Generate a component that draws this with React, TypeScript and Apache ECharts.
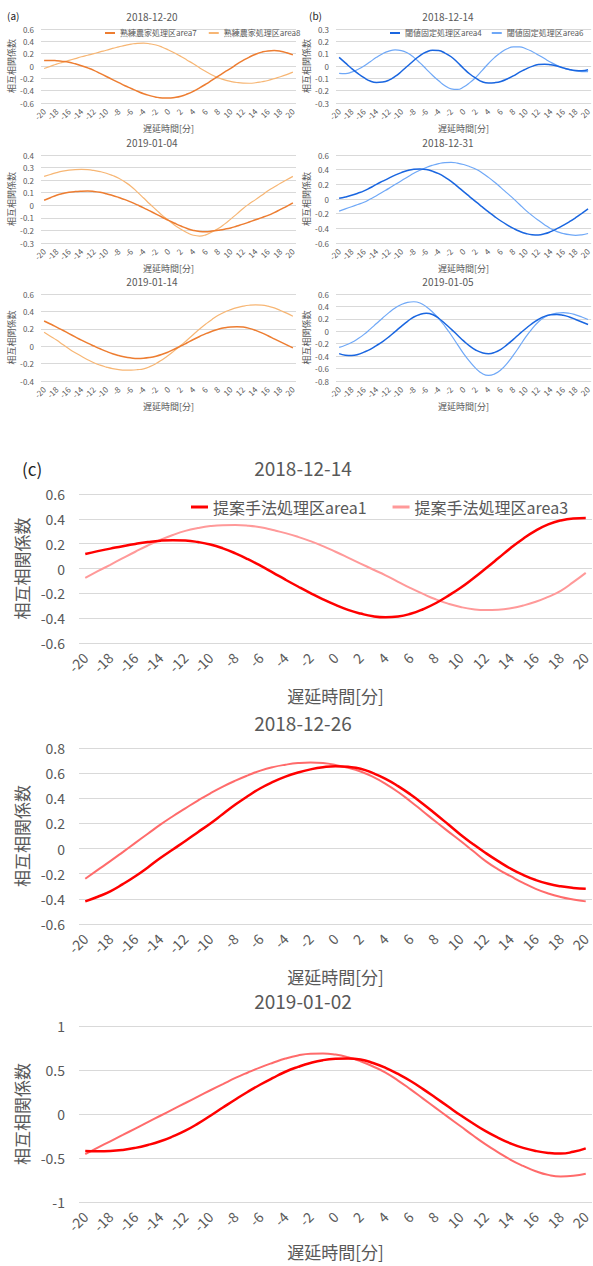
import React, { useEffect, useRef } from "react";
import * as echarts from "echarts";

// category axis: lag in minutes (-20 .. 20)
const LAGS = [-20, -19, -18, -17, -16, -15, -14, -13, -12, -11, -10, -9, -8, -7, -6, -5, -4, -3, -2, -1, 0, 1, 2, 3, 4, 5, 6, 7, 8, 9, 10, 11, 12, 13, 14, 15, 16, 17, 18, 19, 20];

const TITLES = ["2018-12-20", "2019-01-04", "2019-01-14", "2018-12-14", "2018-12-31", "2019-01-05", "2018-12-14", "2018-12-26", "2019-01-02"];
const PANEL_LABELS = ["(a)", "(b)", "(c)"];
const SERIES_NAMES = ["熟練農家処理区area7", "熟練農家処理区area8", "閾値固定処理区area4", "閾値固定処理区area6", "提案手法処理区area1", "提案手法処理区area3"];
const Y_NAME = "相互相関係数";
const X_NAME = "遅延時間[分]";

// (a) 2018-12-20
const a1Area7 = [0.09, 0.09, 0.085, 0.075, 0.06, 0.035, 0.005, -0.03, -0.07, -0.12, -0.17, -0.22, -0.27, -0.32, -0.365, -0.41, -0.45, -0.48, -0.505, -0.518, -0.52, -0.51, -0.49, -0.455, -0.41, -0.355, -0.295, -0.23, -0.165, -0.1, -0.04, 0.03, 0.09, 0.145, 0.19, 0.225, 0.245, 0.25, 0.24, 0.215, 0.18];
const a1Area8 = [-0.04, -0.005, 0.03, 0.06, 0.09, 0.12, 0.15, 0.175, 0.2, 0.23, 0.255, 0.285, 0.31, 0.335, 0.355, 0.368, 0.37, 0.36, 0.34, 0.305, 0.26, 0.21, 0.155, 0.095, 0.035, -0.03, -0.09, -0.145, -0.19, -0.225, -0.25, -0.268, -0.278, -0.28, -0.272, -0.255, -0.235, -0.205, -0.175, -0.14, -0.1];
// (a) 2019-01-04
const a2Area7 = [0.04, 0.06, 0.08, 0.093, 0.103, 0.109, 0.112, 0.113, 0.11, 0.103, 0.092, 0.078, 0.062, 0.045, 0.025, 0.003, -0.02, -0.045, -0.07, -0.095, -0.12, -0.143, -0.165, -0.185, -0.2, -0.208, -0.21, -0.205, -0.198, -0.19, -0.18, -0.165, -0.15, -0.133, -0.115, -0.098, -0.08, -0.058, -0.033, -0.008, 0.02];
const a2Area8 = [0.23, 0.245, 0.26, 0.272, 0.28, 0.284, 0.285, 0.283, 0.277, 0.268, 0.255, 0.237, 0.215, 0.185, 0.15, 0.105, 0.058, 0.01, -0.035, -0.08, -0.12, -0.158, -0.19, -0.218, -0.238, -0.245, -0.235, -0.212, -0.185, -0.15, -0.11, -0.068, -0.025, 0.012, 0.045, 0.08, 0.115, 0.145, 0.175, 0.203, 0.23];
// (a) 2019-01-14
const a3Area7 = [0.29, 0.255, 0.22, 0.183, 0.145, 0.107, 0.07, 0.035, 0.002, -0.03, -0.06, -0.087, -0.108, -0.125, -0.135, -0.14, -0.138, -0.13, -0.115, -0.093, -0.065, -0.032, 0.003, 0.04, 0.077, 0.112, 0.145, 0.172, 0.195, 0.212, 0.222, 0.225, 0.22, 0.205, 0.182, 0.153, 0.12, 0.085, 0.05, 0.015, -0.02];
const a3Area8 = [0.16, 0.115, 0.07, 0.02, -0.03, -0.075, -0.115, -0.155, -0.19, -0.218, -0.24, -0.258, -0.27, -0.276, -0.275, -0.27, -0.26, -0.235, -0.2, -0.155, -0.105, -0.048, 0.01, 0.072, 0.135, 0.197, 0.255, 0.308, 0.355, 0.392, 0.42, 0.443, 0.46, 0.471, 0.475, 0.472, 0.46, 0.44, 0.41, 0.38, 0.345];
// (b) 2018-12-14
const b1Area4 = [0.07, 0.025, -0.02, -0.06, -0.095, -0.122, -0.133, -0.13, -0.115, -0.085, -0.045, 0, 0.045, 0.085, 0.113, 0.128, 0.125, 0.105, 0.075, 0.03, -0.02, -0.065, -0.1, -0.128, -0.138, -0.135, -0.125, -0.105, -0.08, -0.05, -0.025, -0.003, 0.012, 0.015, 0.01, 0, -0.015, -0.028, -0.036, -0.038, -0.03];
const b1Area6 = [-0.06, -0.062, -0.05, -0.028, 0, 0.035, 0.07, 0.1, 0.12, 0.13, 0.125, 0.105, 0.07, 0.025, -0.025, -0.075, -0.12, -0.16, -0.185, -0.19, -0.17, -0.135, -0.09, -0.035, 0.02, 0.07, 0.11, 0.14, 0.155, 0.155, 0.14, 0.118, 0.09, 0.06, 0.03, 0.005, -0.015, -0.03, -0.04, -0.045, -0.045];
// (b) 2018-12-31
const b2Area4 = [0.01, 0.028, 0.05, 0.078, 0.11, 0.153, 0.2, 0.243, 0.285, 0.325, 0.36, 0.388, 0.405, 0.41, 0.403, 0.38, 0.345, 0.297, 0.24, 0.172, 0.1, 0.03, -0.04, -0.108, -0.175, -0.24, -0.3, -0.353, -0.4, -0.44, -0.47, -0.487, -0.49, -0.475, -0.445, -0.405, -0.36, -0.31, -0.255, -0.195, -0.135];
const b2Area6 = [-0.165, -0.135, -0.105, -0.075, -0.045, 0, 0.045, 0.095, 0.145, 0.198, 0.25, 0.3, 0.35, 0.392, 0.43, 0.46, 0.483, 0.497, 0.5, 0.49, 0.47, 0.44, 0.405, 0.355, 0.295, 0.228, 0.155, 0.08, 0.005, -0.075, -0.155, -0.225, -0.29, -0.35, -0.405, -0.445, -0.47, -0.487, -0.495, -0.488, -0.47];
// (b) 2019-01-05
const b3Area4 = [-0.36, -0.385, -0.39, -0.375, -0.335, -0.29, -0.23, -0.165, -0.09, -0.005, 0.08, 0.16, 0.23, 0.272, 0.29, 0.27, 0.21, 0.125, 0.035, -0.06, -0.155, -0.24, -0.305, -0.345, -0.36, -0.34, -0.29, -0.215, -0.13, -0.04, 0.045, 0.125, 0.19, 0.24, 0.265, 0.27, 0.258, 0.23, 0.19, 0.15, 0.11];
const b3Area6 = [-0.26, -0.225, -0.18, -0.12, -0.05, 0.035, 0.125, 0.215, 0.3, 0.375, 0.43, 0.465, 0.475, 0.455, 0.395, 0.31, 0.205, 0.08, -0.06, -0.21, -0.36, -0.49, -0.6, -0.68, -0.71, -0.685, -0.62, -0.515, -0.385, -0.24, -0.09, 0.04, 0.15, 0.225, 0.27, 0.292, 0.3, 0.29, 0.265, 0.23, 0.19];
// (c) 2018-12-14
const c1Area1 = [0.117, 0.14, 0.16, 0.18, 0.198, 0.213, 0.224, 0.228, 0.225, 0.213, 0.193, 0.162, 0.122, 0.075, 0.023, -0.033, -0.09, -0.145, -0.198, -0.248, -0.293, -0.333, -0.363, -0.385, -0.393, -0.387, -0.365, -0.328, -0.28, -0.22, -0.155, -0.08, 0, 0.082, 0.165, 0.24, 0.305, 0.355, 0.387, 0.403, 0.407];
const c1Area3 = [-0.075, -0.022, 0.03, 0.083, 0.135, 0.185, 0.23, 0.27, 0.303, 0.326, 0.342, 0.349, 0.35, 0.345, 0.332, 0.31, 0.285, 0.255, 0.22, 0.18, 0.135, 0.088, 0.04, -0.008, -0.055, -0.107, -0.158, -0.205, -0.248, -0.283, -0.31, -0.328, -0.335, -0.332, -0.32, -0.298, -0.268, -0.228, -0.18, -0.11, -0.035];
// (c) 2018-12-26
const c2Area1 = [-0.42, -0.383, -0.34, -0.283, -0.22, -0.15, -0.075, -0.007, 0.06, 0.13, 0.2, 0.275, 0.35, 0.418, 0.48, 0.53, 0.572, 0.605, 0.63, 0.647, 0.655, 0.65, 0.635, 0.6, 0.555, 0.497, 0.43, 0.355, 0.275, 0.193, 0.11, 0.035, -0.035, -0.1, -0.16, -0.21, -0.25, -0.28, -0.3, -0.313, -0.32];
const c2Area3 = [-0.24, -0.17, -0.1, -0.028, 0.045, 0.118, 0.19, 0.257, 0.32, 0.382, 0.44, 0.493, 0.54, 0.582, 0.62, 0.648, 0.667, 0.68, 0.685, 0.68, 0.665, 0.643, 0.613, 0.57, 0.515, 0.45, 0.375, 0.295, 0.215, 0.137, 0.06, -0.02, -0.1, -0.165, -0.22, -0.273, -0.32, -0.357, -0.385, -0.405, -0.42];
// (c) 2019-01-02
const c3Area1 = [-0.42, -0.423, -0.42, -0.408, -0.385, -0.352, -0.31, -0.255, -0.19, -0.11, -0.02, 0.073, 0.165, 0.253, 0.335, 0.41, 0.48, 0.535, 0.58, 0.612, 0.628, 0.632, 0.62, 0.58, 0.525, 0.455, 0.375, 0.283, 0.185, 0.085, -0.015, -0.108, -0.195, -0.27, -0.335, -0.385, -0.42, -0.442, -0.45, -0.43, -0.39];
const c3Area3 = [-0.455, -0.382, -0.31, -0.238, -0.165, -0.092, -0.02, 0.053, 0.125, 0.198, 0.27, 0.34, 0.41, 0.472, 0.53, 0.582, 0.63, 0.665, 0.685, 0.688, 0.675, 0.645, 0.6, 0.54, 0.47, 0.38, 0.28, 0.175, 0.07, -0.035, -0.14, -0.245, -0.345, -0.435, -0.52, -0.59, -0.65, -0.692, -0.71, -0.703, -0.68];

// y-axis ranges per panel: [min, max, interval]
const Y_RANGES = [
  [-0.6, 0.6, 0.2], [-0.3, 0.4, 0.1], [-0.4, 0.6, 0.2],
  [-0.3, 0.3, 0.1], [-0.6, 0.6, 0.2], [-0.8, 0.6, 0.2],
  [-0.6, 0.6, 0.2], [-0.6, 0.8, 0.2], [-1, 1, 0.5],
];

const FONT = '"Noto Sans CJK JP", "Noto Sans", sans-serif';
const GRAY = "#595959";
const GRID_COLOR = "#d9d9d9";

const ORANGE = "#ed7d31";
const ORANGE_LIGHT = "#f7b674";
const BLUE = "#1a66e0";
const BLUE_LIGHT = "#6fa8f7";
const RED = "#ff0000";
const RED_LIGHT1 = "#ff9999";
const RED_LIGHT2 = "#ff6b6b";

type SeriesDef = { name: string; values: number[]; color: string; width: number };
type Panel = {
  grid: { left: number; top: number; width: number; height: number };
  big: boolean;
  title: string;
  titleX: number;
  titleY: number;
  xNameGap: number;
  series: SeriesDef[];
};

const panels: Panel[] = [
  { grid: { left: 41, top: 29, width: 255, height: 74 }, big: false, title: TITLES[0], titleX: 152, titleY: 16, xNameGap: 20,
    series: [ { name: SERIES_NAMES[0], values: a1Area7, color: ORANGE, width: 1.5 }, { name: SERIES_NAMES[1], values: a1Area8, color: ORANGE_LIGHT, width: 1.2 } ] },
  { grid: { left: 41, top: 155, width: 255, height: 88 }, big: false, title: TITLES[1], titleX: 152, titleY: 142, xNameGap: 16,
    series: [ { name: SERIES_NAMES[0], values: a2Area7, color: ORANGE, width: 1.5 }, { name: SERIES_NAMES[1], values: a2Area8, color: ORANGE_LIGHT, width: 1.2 } ] },
  { grid: { left: 41, top: 294, width: 255, height: 87 }, big: false, title: TITLES[2], titleX: 152, titleY: 281, xNameGap: 21,
    series: [ { name: SERIES_NAMES[0], values: a3Area7, color: ORANGE, width: 1.5 }, { name: SERIES_NAMES[1], values: a3Area8, color: ORANGE_LIGHT, width: 1.2 } ] },
  { grid: { left: 336, top: 29, width: 256, height: 74 }, big: false, title: TITLES[3], titleX: 448, titleY: 16, xNameGap: 20,
    series: [ { name: SERIES_NAMES[2], values: b1Area4, color: BLUE, width: 1.5 }, { name: SERIES_NAMES[3], values: b1Area6, color: BLUE_LIGHT, width: 1.2 } ] },
  { grid: { left: 336, top: 155, width: 256, height: 88 }, big: false, title: TITLES[4], titleX: 448, titleY: 142, xNameGap: 16,
    series: [ { name: SERIES_NAMES[2], values: b2Area4, color: BLUE, width: 1.5 }, { name: SERIES_NAMES[3], values: b2Area6, color: BLUE_LIGHT, width: 1.2 } ] },
  { grid: { left: 336, top: 294, width: 256, height: 87 }, big: false, title: TITLES[5], titleX: 448, titleY: 281, xNameGap: 21,
    series: [ { name: SERIES_NAMES[2], values: b3Area4, color: BLUE, width: 1.5 }, { name: SERIES_NAMES[3], values: b3Area6, color: BLUE_LIGHT, width: 1.2 } ] },
  { grid: { left: 79, top: 494, width: 513, height: 149 }, big: true, title: TITLES[6], titleX: 303, titleY: 467, xNameGap: 44,
    series: [ { name: SERIES_NAMES[4], values: c1Area1, color: RED, width: 2.5 }, { name: SERIES_NAMES[5], values: c1Area3, color: RED_LIGHT1, width: 2 } ] },
  { grid: { left: 79, top: 748, width: 513, height: 176 }, big: true, title: TITLES[7], titleX: 303, titleY: 722, xNameGap: 44,
    series: [ { name: SERIES_NAMES[4], values: c2Area1, color: RED, width: 2.5 }, { name: SERIES_NAMES[5], values: c2Area3, color: RED_LIGHT2, width: 2 } ] },
  { grid: { left: 79, top: 1026, width: 513, height: 176 }, big: true, title: TITLES[8], titleX: 303, titleY: 1000, xNameGap: 41,
    series: [ { name: SERIES_NAMES[4], values: c3Area1, color: RED, width: 2.5 }, { name: SERIES_NAMES[5], values: c3Area3, color: RED_LIGHT2, width: 2 } ] },
];

function textEl(text: string, x: number, y: number, size: number, color: string, align: string) {
  return {
    type: "text",
    x,
    y,
    style: {
      text,
      fontSize: size,
      fontFamily: FONT,
      fill: color,
      align,
      textAlign: align,
      verticalAlign: "middle",
      textVerticalAlign: "middle",
    },
  };
}

function buildOption() {
  const categories = LAGS.map((l) => String(l));
  const grid: any[] = [];
  const xAxis: any[] = [];
  const yAxis: any[] = [];
  const series: any[] = [];
  const graphic: any[] = [];

  panels.forEach((p, i) => {
    const big = p.big;
    grid.push({ ...p.grid, containLabel: false });
    xAxis.push({
      type: "category",
      gridIndex: i,
      data: categories,
      boundaryGap: true,
      axisLine: { show: false },
      axisTick: { show: false },
      splitLine: { show: false },
      axisLabel: {
        interval: 1,
        rotate: 45,
        fontSize: big ? 14 : 8,
        color: GRAY,
        fontFamily: FONT,
        margin: big ? 12 : 7,
      },
      name: X_NAME,
      nameLocation: "middle",
      nameGap: p.xNameGap,
      nameTextStyle: { fontSize: big ? 17 : 9, color: GRAY, fontFamily: FONT },
    });
    const [mn, mx, iv] = Y_RANGES[i];
    yAxis.push({
      type: "value",
      gridIndex: i,
      min: mn,
      max: mx,
      interval: iv,
      axisLine: { show: false },
      axisTick: { show: false },
      splitLine: { show: true, lineStyle: { color: GRID_COLOR, width: 1 } },
      axisLabel: { fontSize: big ? 14 : 8, color: GRAY, fontFamily: FONT, margin: big ? 14 : 7 },
      name: Y_NAME,
      nameLocation: "middle",
      nameGap: big ? 47 : 23,
      nameTextStyle: { fontSize: big ? 17 : 9, color: GRAY, fontFamily: FONT },
    });
    p.series.forEach((s, k) => {
      series.push({
        type: "line",
        name: s.name,
        xAxisIndex: i,
        yAxisIndex: i,
        smooth: true,
        symbol: "none",
        z: 3 - k,
        lineStyle: { color: s.color, width: s.width },
        itemStyle: { color: s.color },
        data: s.values,
      });
    });
    graphic.push(textEl(p.title, p.titleX, p.titleY, big ? 19 : 10, GRAY, "center"));
  });

  graphic.push(textEl(PANEL_LABELS[0], 7, 15, 10, "#222", "left"));
  graphic.push(textEl(PANEL_LABELS[1], 309, 15, 10, "#222", "left"));
  graphic.push(textEl(PANEL_LABELS[2], 22, 468, 17, "#222", "left"));

  const legendCommon = { icon: "rect", orient: "horizontal", selectedMode: false, padding: 0 };
  const legend = [
    { ...legendCommon, data: [SERIES_NAMES[0], SERIES_NAMES[1]], left: 105, top: 29, width: 250, itemWidth: 10, itemHeight: 2, itemGap: 12,
      textStyle: { fontSize: 8, color: GRAY, fontFamily: FONT } },
    { ...legendCommon, data: [SERIES_NAMES[2], SERIES_NAMES[3]], left: 390, top: 29, width: 250, itemWidth: 10, itemHeight: 2, itemGap: 10,
      textStyle: { fontSize: 8, color: GRAY, fontFamily: FONT } },
    { ...legendCommon, data: [SERIES_NAMES[4], SERIES_NAMES[5]], left: 191, top: 499, width: 450, itemWidth: 17, itemHeight: 3, itemGap: 26,
      textStyle: { fontSize: 16, color: GRAY, fontFamily: FONT } },
  ];

  return {
    animation: false,
    backgroundColor: "#ffffff",
    textStyle: { fontFamily: FONT },
    grid,
    xAxis,
    yAxis,
    series,
    legend,
    graphic,
  };
}

export default function App() {
  const ref = useRef<HTMLDivElement>(null);
  useEffect(() => {
    if (!ref.current) return;
    const chart = echarts.init(ref.current, null, { renderer: "svg" });
    chart.setOption(buildOption() as any);
    return () => chart.dispose();
  }, []);
  return (
    <div
      ref={ref}
      style={{ position: "absolute", left: 0, top: 0, width: 593, height: 1266, background: "#fff" }}
    />
  );
}
